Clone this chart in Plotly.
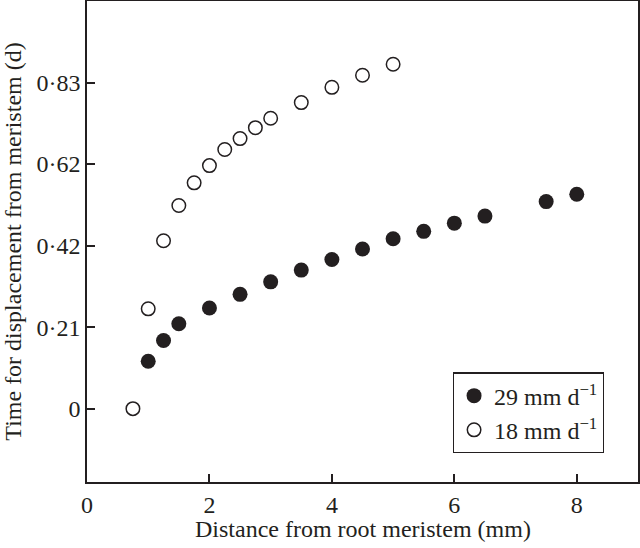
import plotly.graph_objects as go

# Data (distance in mm, time in days)
fast_x = [1, 1.25, 1.5, 2, 2.5, 3, 3.5, 4, 4.5, 5, 5.5, 6, 6.5, 7.5, 8]
fast_y = [0.121, 0.174, 0.217, 0.257, 0.292, 0.324, 0.354, 0.381, 0.408, 0.434,
          0.453, 0.474, 0.492, 0.529, 0.548]

slow_x = [0.75, 1, 1.25, 1.5, 1.75, 2, 2.25, 2.5, 2.75, 3, 3.5, 4, 4.5, 5]
slow_y = [0.0, 0.255, 0.429, 0.519, 0.577, 0.621, 0.662, 0.690, 0.718, 0.742,
          0.782, 0.821, 0.852, 0.880]

y_tickvals = [0, 5/24, 10/24, 15/24, 20/24]
y_ticktext = ["0", "0·21", "0·42", "0·62", "0·83"]
x_tickvals = [0, 2, 4, 6, 8]
x_ticktext = ["0", "2", "4", "6", "8"]

series_names = ["29 mm d<sup>−1</sup>", "18 mm d<sup>−1</sup>"]
x_title = "Distance from root meristem (mm)"
y_title = "Time for displacement from meristem (d)"

FONT = "Liberation Serif, Times New Roman, serif"
INK = "#231f20"

fig = go.Figure()
fig.add_trace(go.Scatter(
    x=fast_x, y=fast_y, mode="markers", name=series_names[0],
    marker=dict(symbol="circle", size=15, color=INK, line=dict(width=0)),
))
fig.add_trace(go.Scatter(
    x=slow_x, y=slow_y, mode="markers", name=series_names[1],
    marker=dict(symbol="circle", size=13.5, color="white", line=dict(width=1.5, color=INK)),
))

axis_common = dict(
    showgrid=False, zeroline=False, showline=True, linecolor=INK, linewidth=1.5,
    mirror=True, ticks="inside", ticklen=8, tickwidth=1.5, tickcolor=INK,
    tickfont=dict(family=FONT, size=24, color=INK), automargin=False,
)

fig.update_xaxes(
    range=[0, 9], tickmode="array", tickvals=x_tickvals, ticktext=x_ticktext,
    **axis_common,
)
fig.update_yaxes(
    range=[-0.1875, 25/24], tickmode="array", tickvals=y_tickvals, ticktext=y_ticktext,
    title=dict(text=y_title, font=dict(family=FONT, size=24, color=INK), standoff=10),
    **axis_common,
)

fig.add_annotation(
    text=x_title, xref="paper", yref="paper", x=0.5, y=-0.0977,
    xanchor="center", yanchor="middle", showarrow=False,
    font=dict(family=FONT, size=24, color=INK),
)

fig.update_layout(
    width=640, height=548,
    margin=dict(l=87, r=2, t=1, b=66),
    paper_bgcolor="white", plot_bgcolor="white",
    font=dict(family=FONT, size=24, color=INK),
    showlegend=True,
    legend=dict(
        x=0.664, y=0.228, xanchor="left", yanchor="top",
        bordercolor=INK, borderwidth=1.2, bgcolor="white",
        font=dict(family=FONT, size=24, color=INK),
        tracegroupgap=0, itemwidth=30,
    ),
)

fig.write_html("out.html", config={"displayModeBar": False},
               post_script="document.body.style.margin='0';document.body.style.overflow='hidden';")
